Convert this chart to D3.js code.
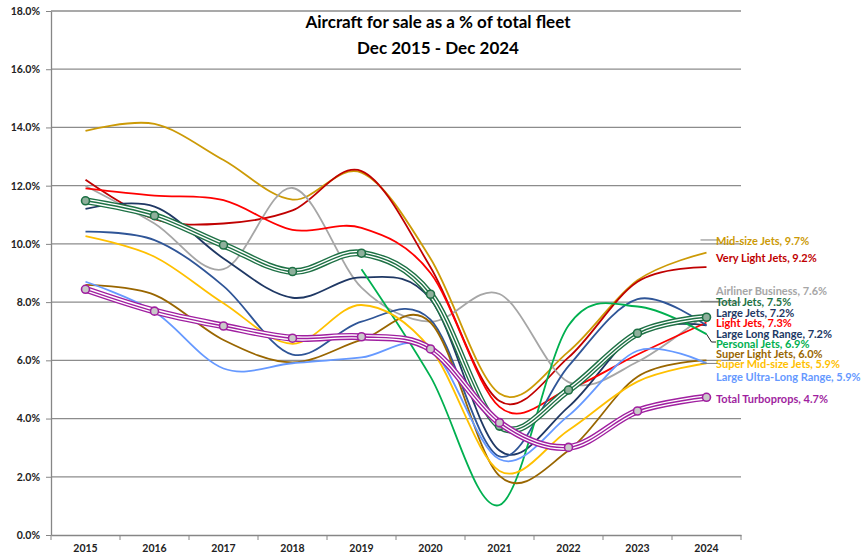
<!DOCTYPE html>
<html>
<head>
<meta charset="utf-8">
<title>Aircraft for sale as a % of total fleet</title>
<style>
  body { margin: 0; background: #fff; }
  text { font-family: Lato, "Liberation Sans", sans-serif; }
</style>
</head>
<body>
<script src="https://d3js.org/d3.v7.min.js"></script>
<script>
  // data (percent of fleet, Dec of each year)
  var years = ["2015", "2016", "2017", "2018", "2019", "2020", "2021", "2022", "2023", "2024"];
  var yTicks = [0, 2, 4, 6, 8, 10, 12, 14, 16, 18];

  var midSize        = [13.88, 14.12, 12.88, 11.52, 12.45, 9.5, 4.86, 6.3, 8.75, 9.7];
  var veryLight      = [12.2, 10.85, 10.7, 11.15, 12.5, 9.2, 4.6, 6.1, 8.7, 9.2];
  var airliner       = [11.99, 10.7, 9.13, 11.92, 8.5, 7.33, 8.28, 5.25, 5.95, 7.6];
  var largeJets      = [11.2, 11.28, 9.5, 8.15, 8.85, 8.1, 2.9, 4.4, 6.95, 7.2];
  var lightJets      = [11.91, 11.66, 11.5, 10.48, 10.55, 9.0, 4.4, 5.0, 6.2, 7.3];
  var largeLongRange = [10.42, 10.13, 8.55, 6.2, 7.33, 7.4, 2.7, 5.8, 8.1, 7.2];
  var personal       = [null, null, null, null, 9.13, 5.44, 1.03, 7.2, 7.85, 6.9];
  var superLight     = [8.59, 8.25, 6.7, 5.93, 6.7, 7.3, 2.03, 2.9, 5.44, 6.0];
  var superMid       = [10.27, 9.56, 7.96, 6.57, 7.9, 6.4, 2.2, 3.6, 5.27, 5.9];
  var largeULR       = [8.7, 7.67, 5.72, 5.9, 6.1, 6.4, 2.6, 4.1, 6.33, 5.9];
  var totalJets      = [11.48, 10.97, 9.96, 9.05, 9.68, 8.27, 3.74, 4.98, 6.93, 7.48];
  var turboprops     = [8.44, 7.69, 7.18, 6.76, 6.81, 6.39, 3.86, 3.01, 4.26, 4.73];

  var series = [
    { name: "Mid-size Jets", values: midSize, color: "#CC9A06", labelAt: 10.1, leader: true },
    { name: "Very Light Jets", values: veryLight, color: "#C00000", labelAt: 9.52 },
    { name: "Airliner Business", values: airliner, color: "#A6A6A6", labelAt: 8.38 },
    { name: "Large Jets", values: largeJets, color: "#1F3864", labelAt: 7.62 },
    { name: "Light Jets", values: lightJets, color: "#FF0000", labelAt: 7.28 },
    { name: "Large Long Range", values: largeLongRange, color: "#2F5597", labelAt: 6.9, labelColor: "#203864" },
    { name: "Personal Jets", values: personal, color: "#00B050", labelAt: 6.56, bent: true },
    { name: "Super Light Jets", values: superLight, color: "#996600", labelAt: 6.22 },
    { name: "Super Mid-size Jets", values: superMid, color: "#FFC000", labelAt: 5.86, leader: true },
    { name: "Large Ultra-Long Range", values: largeULR, color: "#6699FF", labelAt: 5.41 },
    { name: "Total Jets", values: totalJets, color: "#1E7145", labelAt: 7.99, leader: true, compound: true, fill: "#8FB09C" },
    { name: "Total Turboprops", values: turboprops, color: "#A01FA0", labelAt: 4.67, compound: true, fill: "#C9C9C9" }
  ];

  var width = 866, height = 556;
  var plotL = 51, plotR = 741, plotT = 11, plotB = 535;

  var svg = d3.select("body").append("svg")
    .attr("width", width).attr("height", height);

  var x = d3.scaleBand().domain(years).range([plotL, plotR]);
  var y = d3.scaleLinear().domain([0, 18]).range([plotB, plotT]);
  var cx = function(d) { return x(d) + x.bandwidth() / 2; };

  // gridlines
  svg.append("g").selectAll("line")
    .data(yTicks.filter(function(d) { return d > 0; }))
    .enter().append("line")
    .attr("x1", plotL).attr("x2", plotR)
    .attr("y1", function(d) { return y(d); }).attr("y2", function(d) { return y(d); })
    .attr("stroke", "#8C8C8C").attr("stroke-width", 1.3);

  // y axis
  var yAxis = svg.append("g")
    .attr("transform", "translate(" + plotL + ",0)")
    .call(d3.axisLeft(y).tickValues(yTicks).tickSize(5).tickSizeOuter(0)
      .tickFormat(function(d) { return d.toFixed(1) + "%"; }));
  yAxis.attr("font-family", null);
  yAxis.select(".domain").attr("stroke", "#868686").attr("stroke-width", 1.3);
  yAxis.selectAll(".tick line").attr("stroke", "#868686");
  yAxis.selectAll("text").attr("x", -11).attr("font-size", 10.5).attr("font-weight", "bold").attr("fill", "#222");

  // x axis
  var xAxis = svg.append("g")
    .attr("transform", "translate(0," + plotB + ")")
    .call(d3.axisBottom(x).tickSize(0).tickSizeOuter(0));
  xAxis.attr("font-family", null);
  xAxis.select(".domain").attr("stroke", "#868686").attr("stroke-width", 1.3);
  xAxis.selectAll("text").attr("y", 10).attr("font-size", 10.5).attr("font-weight", "bold").attr("fill", "#222");
  xAxis.selectAll(".edge").data(years.concat([null]))
    .enter().append("line")
    .attr("class", "edge")
    .attr("x1", function(d) { return d === null ? plotR : x(d); })
    .attr("x2", function(d) { return d === null ? plotR : x(d); })
    .attr("y1", 0).attr("y2", 5)
    .attr("stroke", "#868686");

  // lines
  var line = d3.line()
    .defined(function(d) { return d.v != null; })
    .x(function(d) { return cx(d.year); })
    .y(function(d) { return y(d.v); })
    .curve(d3.curveCardinal.tension(0));

  var pts = function(s) {
    return s.values.map(function(v, i) { return { year: years[i], v: v }; });
  };

  var g = svg.append("g").attr("fill", "none");
  series.forEach(function(s) {
    var p = pts(s);
    if (s.compound) {
      g.append("path").attr("d", line(p)).attr("stroke", s.color).attr("stroke-width", 7);
      g.append("path").attr("d", line(p)).attr("stroke", "#fff").attr("stroke-width", 4.2);
      g.append("path").attr("d", line(p)).attr("stroke", s.color).attr("stroke-width", 1.4);
      g.selectAll(null).data(p.filter(function(d) { return d.v != null; }))
        .enter().append("circle")
        .attr("cx", function(d) { return cx(d.year); })
        .attr("cy", function(d) { return y(d.v); })
        .attr("r", 4)
        .attr("fill", s.fill).attr("stroke", s.color).attr("stroke-width", 1.6);
    } else {
      g.append("path").attr("d", line(p)).attr("stroke", s.color).attr("stroke-width", 1.8);
    }
  });

  // end labels
  var lx = 716;
  var lab = svg.append("g");
  series.forEach(function(s) {
    var last = s.values[s.values.length - 1];
    var ly = y(s.labelAt);
    if (s.leader) {
      lab.append("line")
        .attr("x1", cx(years[years.length - 1]) - 6).attr("x2", lx + 4)
        .attr("y1", ly - 1).attr("y2", ly - 1)
        .attr("stroke", "#7F7F7F").attr("stroke-width", 1);
    }
    if (s.bent) {
      lab.append("polyline")
        .attr("points", [[cx(years[9]), y(last)], [cx(years[9]) + 5, ly - 2], [lx, ly - 2]].join(" "))
        .attr("fill", "none").attr("stroke", "#222").attr("stroke-width", 1);
    }
    lab.append("text")
      .attr("x", lx).attr("y", ly).attr("dy", "0.35em")
      .attr("font-size", 11).attr("font-weight", "bold")
      .attr("fill", s.labelColor || s.color)
      .text(s.name + ", " + last.toFixed(1) + "%");
  });

  // title
  svg.append("text").attr("x", 438).attr("y", 28).attr("text-anchor", "middle")
    .attr("font-size", 17).attr("font-weight", "bold").attr("fill", "#000")
    .text("Aircraft for sale as a % of total fleet");
  svg.append("text").attr("x", 438).attr("y", 54).attr("text-anchor", "middle")
    .attr("font-size", 17).attr("font-weight", "bold").attr("fill", "#000")
    .text("Dec 2015 - Dec 2024");
</script>
</body>
</html>
